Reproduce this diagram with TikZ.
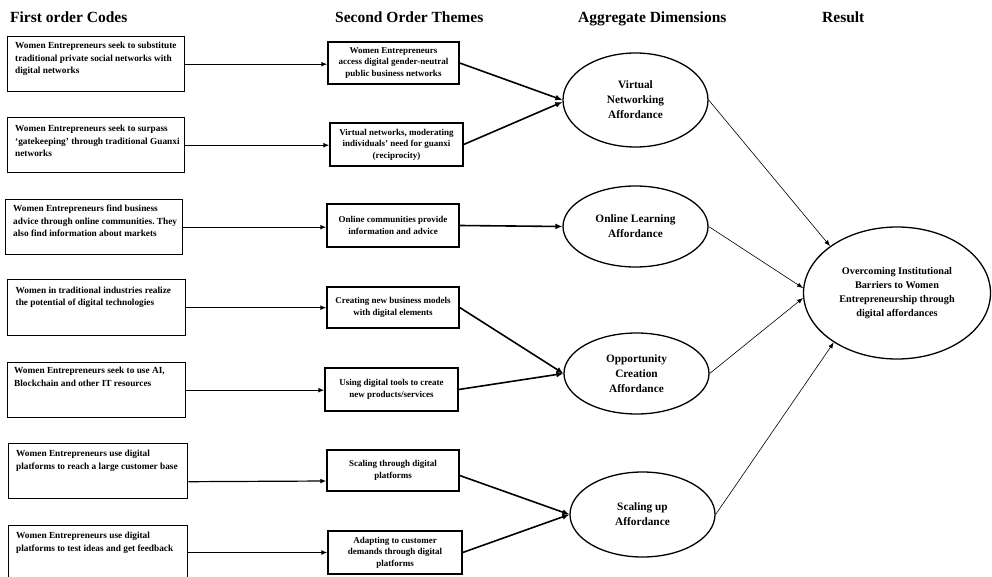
\documentclass[tikz,border=0pt]{standalone}
\usepackage{fontspec}
\setmainfont{Liberation Serif}
\usetikzlibrary{arrows.meta,shapes.geometric,calc}
\frenchspacing
\begin{document}
\begin{tikzpicture}[x=1pt,y=-1pt,
  head/.style={font=\fontsize{15.5}{18}\selectfont\bfseries, inner sep=0pt, anchor=base west},
  codebox/.style={draw, line width=1.4pt, minimum width=177pt, minimum height=55pt, inner sep=0pt, anchor=north west},
  codetext/.style={font=\fontsize{9.3}{12.5}\selectfont\bfseries, inner sep=0pt, anchor=north west, align=left},
  theme/.style={draw, line width=1.4pt, inner sep=0pt, align=center, font=\fontsize{9}{11.5}\selectfont\bfseries},
  dim/.style={draw, ellipse, line width=1.3pt, inner sep=0pt, minimum width=145pt, align=center, font=\fontsize{11.3}{15}\selectfont\bfseries},
  arr/.style={line width=1.2pt, -{Latex[length=6pt,width=5pt]}},
  arrb/.style={line width=1.6pt, -{Latex[length=7pt,width=6pt]}},
  arrt/.style={line width=0.6pt, -{Latex[length=6pt,width=4.5pt]}}
]
\useasboundingbox (0,0) rectangle (992,577);
\clip (0,0) rectangle (992,577);

% headings
\node[head] (h1) at (10,23) {First order Codes};
\node[head] (h2) at (335,23) {Second Order Themes};
\node[head] (h3) at (578,23) {Aggregate Dimensions};
\node[head] (h4) at (822,23) {Result};

% first order codes
\node[codebox] (c1) at (7,36) {};
\node[codetext] (c1t) at ($(c1.north west)+(8,6)$) {Women Entrepreneurs seek to substitute\\traditional private social networks with\\digital networks};
\node[codebox] (c2) at (7,117) {};
\node[codetext] (c2t) at ($(c2.north west)+(8,8)$) {Women Entrepreneurs seek to surpass\\‘gatekeeping’ through traditional Guanxi\\networks};
\node[codebox] (c3) at (5,199) {};
\node[codetext] (c3t) at ($(c3.north west)+(8,6)$) {Women Entrepreneurs find business\\advice through online communities. They\\also find information about markets};
\node[codebox, minimum width=178pt, minimum height=56pt] (c4) at (7,279) {};
\node[codetext] (c4t) at ($(c4.north west)+(8.5,7.5)$) {Women in traditional industries realize\\the potential of digital technologies};
\node[codebox, minimum width=178pt] (c5) at (7,362) {};
\node[codetext] (c5t) at ($(c5.north west)+(7,5)$) {Women Entrepreneurs seek to use AI,\\Blockchain and other IT resources};
\node[codebox, minimum width=179pt] (c6) at (8,443) {};
\node[codetext] (c6t) at ($(c6.north west)+(8,7)$) {Women Entrepreneurs use digital\\platforms to reach a large customer base};
\node[codebox, minimum width=179pt, minimum height=70pt] (c7) at (8,525) {};
\node[codetext] (c7t) at ($(c7.north west)+(8,7)$) {Women Entrepreneurs use digital\\platforms to test ideas and get feedback};

% second order themes
\node[theme, minimum width=131pt, minimum height=42pt] (t1) at (393.5,63) {Women Entrepreneurs\\access digital gender-neutral\\public business networks};
\node[theme, minimum width=133pt, minimum height=43pt] (t2) at (396.5,144.5) {Virtual networks, moderating\\individuals’ need for guanxi\\(reciprocity)};
\node[theme, minimum width=132pt, minimum height=43pt] (t3) at (393,225.5) {Online communities provide\\information and advice};
\node[theme, minimum width=132pt, minimum height=41pt] (t4) at (393,307.5) {Creating new business models\\with digital elements};
\node[theme, minimum width=133pt, minimum height=43pt] (t5) at (391.5,389.5) {Using digital tools to create\\new products/services};
\node[theme, minimum width=132pt, minimum height=41pt] (t6) at (393,470.5) {Scaling through digital\\platforms};
\node[theme, minimum width=134pt, minimum height=43pt] (t7) at (395,552.5) {Adapting to customer\\demands through digital\\platforms};

% aggregate dimensions
\node[dim, minimum height=94pt] (e1) at (635.5,100) {Virtual\\Networking\\Affordance};
\node[dim, minimum height=81pt] (e2) at (635.5,226.5) {Online Learning\\Affordance};
\node[dim, minimum height=81pt] (e3) at (636.5,373.5) {Opportunity\\Creation\\Affordance};
\node[dim, minimum height=85pt] (e4) at (642.5,514.5) {Scaling up\\Affordance};

% result
\node[draw, ellipse, line width=1.3pt, inner sep=0pt, minimum width=187pt, minimum height=132pt, align=center, font=\fontsize{10.2}{14}\selectfont\bfseries] (res) at (897,293) {Overcoming Institutional\\Barriers to Women\\Entrepreneurship through\\digital affordances};

% codes -> themes
\draw[arr] (c1.east) -- (c1.east -| t1.west);
\draw[arr] (c2.east) -- (c2.east -| t2.west);
\draw[arr] (c3.east) -- (c3.east -| t3.west);
\draw[arr] (c4.east) -- (c4.east -| t4.west);
\draw[arr] (c5.east) -- (c5.east -| t5.west);
\draw[arr] ($(c6.east)+(0,10.5)$) -- ($(t6.west)+(0,10.5)$);
\draw[arr] (c7.east |- t7.west) -- (t7.west);

% themes -> dimensions
\draw[arrb] (t1.east) -- (e1.west);
\draw[arrb] (t2.east) -- ($(e1.west)+(0,2)$);
\draw[arrb] (t3.east) -- (e2.west);
\draw[arrb] (t4.east) -- (e3.west);
\draw[arrb] (t5.east) -- (e3.west);
\draw[arrb] ($(t6.east)+(0,5)$) -- (e4.west);
\draw[arrb] (t7.east) -- (e4.west);

% dimensions -> result
\draw[arrt] (e1.east) -- (res.145);
\draw[arrt] (e2.east) -- (res.177);
\draw[arrt] (e3.east) -- (res.183);
\draw[arrt] (e4.east) -- (res.218);
\end{tikzpicture}
\end{document}
